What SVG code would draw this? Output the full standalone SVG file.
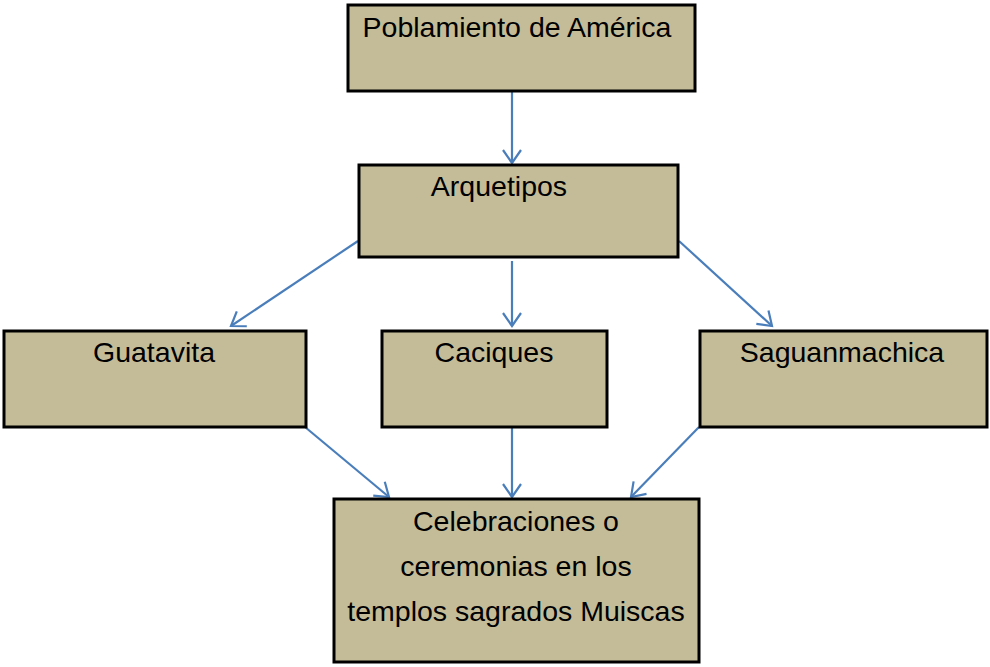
<svg xmlns="http://www.w3.org/2000/svg" width="990" height="667" viewBox="0 0 990 667">
<defs>
<style>
.box{fill:#C4BC98;stroke:#000;stroke-width:3}
.t{font-family:"Liberation Sans","Open Sans",sans-serif;font-size:28.5px;fill:#000;text-anchor:middle}
.c{stroke:#4A7EBB;stroke-width:2.2;fill:none;marker-end:url(#ah)}
</style>
<marker id="ah" markerUnits="userSpaceOnUse" markerWidth="30" markerHeight="30" viewBox="-15 -15 30 30" refX="0" refY="0" orient="auto">
<path d="M-13,-9 L0,0 L-13,9" fill="none" stroke="#4A7EBB" stroke-width="2.2"/>
</marker>
</defs>
<rect width="990" height="667" fill="#fff"/>
<g id="connectors">
<line class="c" x1="512" y1="92" x2="512" y2="163"/>
<line class="c" x1="358" y1="241" x2="231" y2="326"/>
<line class="c" x1="512" y1="261" x2="512" y2="326"/>
<line class="c" x1="679" y1="241" x2="772" y2="326"/>
<line class="c" x1="305" y1="427" x2="389" y2="497"/>
<line class="c" x1="512" y1="427" x2="512" y2="497"/>
<line class="c" x1="699" y1="427" x2="631" y2="497"/>
</g>
<g id="poblamiento">
<rect class="box" x="348" y="5" width="347" height="86"/>
<text class="t" x="517" y="37">Poblamiento de América</text>
</g>
<g id="arquetipos">
<rect class="box" x="359" y="165" width="319" height="92"/>
<text class="t" x="499" y="196">Arquetipos</text>
</g>
<g id="guatavita">
<rect class="box" x="4" y="331" width="302" height="96"/>
<text class="t" x="154" y="362">Guatavita</text>
</g>
<g id="caciques">
<rect class="box" x="382" y="331" width="225" height="96"/>
<text class="t" x="494" y="362">Caciques</text>
</g>
<g id="saguanmachica">
<rect class="box" x="700" y="331" width="287" height="96"/>
<text class="t" x="842" y="362">Saguanmachica</text>
</g>
<g id="celebraciones">
<rect class="box" x="334" y="499" width="365" height="163"/>
<text class="t" x="516" y="531">Celebraciones o</text>
<text class="t" x="516" y="576">ceremonias en los</text>
<text class="t" x="516" y="621">templos sagrados Muiscas</text>
</g>
</svg>
